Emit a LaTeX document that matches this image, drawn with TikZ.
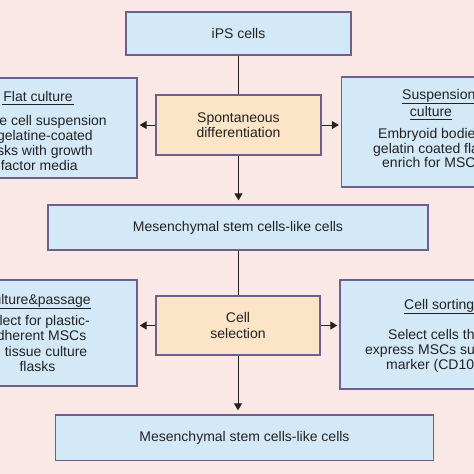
\documentclass[tikz,border=0pt]{standalone}
\usepackage{fontspec}
\setmainfont{Liberation Sans}
\usetikzlibrary{arrows.meta,positioning,calc}
\definecolor{bgpink}{HTML}{FAE8E6}
\definecolor{boxblue}{HTML}{D4E9F8}
\definecolor{boxorange}{HTML}{FCE4C6}
\definecolor{boxedge}{HTML}{6E5F8E}
\definecolor{inkgray}{HTML}{222222}

\begin{document}
\begin{tikzpicture}[x=1pt,y=-1pt,
  every node/.style={font=\fontsize{14}{15.2}\selectfont,text=inkgray},
  bluebox/.style={draw=boxedge,line width=1.3pt,fill=boxblue,align=center,inner sep=0pt},
  stagebox/.style={draw=boxedge,line width=1.3pt,fill=boxorange,align=center,inner sep=0pt},
  txt/.style={inner sep=0pt},
  link/.style={draw=inkgray,line width=1pt},
  uline/.style={draw=inkgray,line width=0.8pt},
  arr/.style={link,-{Triangle[length=7pt,width=8pt]}}]
\useasboundingbox (0,0) rectangle (474,474);
\clip (0,0) rectangle (474,474);
\fill[bgpink] (0,0) rectangle (474,474);

% main column
\node[bluebox,minimum width=225pt,minimum height=43pt] (ips) at (238.5,33.5) {iPS cells};
\node[stagebox,minimum width=165pt,minimum height=60pt] (spont) at (238.5,125) {Spontaneous\\differentiation};
\node[bluebox,minimum width=380pt,minimum height=45pt] (msc1) at (238,227.5) {Mesenchymal stem cells-like cells};
\node[stagebox,minimum width=164pt,minimum height=59pt] (sel) at (238,325.5) {Cell\\selection};
\node[bluebox,minimum width=377.6pt,minimum height=45.7pt] (msc2) at (244.5,437.8) {Mesenchymal stem cells-like cells};

% side boxes (run past the edges)
\node[bluebox,minimum width=177pt,minimum height=100pt] (flat) at (48.5,128) {};
\node[bluebox,minimum width=178.5pt,minimum height=110pt] (susp) at (430.75,132) {};
\node[bluebox,minimum width=177pt,minimum height=106pt] (passage) at (48.5,333) {};
\node[bluebox,minimum width=180pt,minimum height=109pt] (sort) at (430,334.5) {};

% flat culture
\node[txt,anchor=base] (flathead) at (38,101.5) {Flat culture};
\draw[uline] ([shift={(-1.5pt,-3pt)}]flathead.base west) -- ([shift={(1.5pt,-3pt)}]flathead.base east);
\node[txt,anchor=base east] (flat1) at (107,125) {e cell suspension};
\node[txt,anchor=base east] (flat2) at (93,140) {gelatine-coated};
\node[txt,anchor=base east] (flat3) at (93,155) {sks with growth};
\node[txt,anchor=base east] (flat4) at (78,170) {factor media};

% suspension culture
\node[txt,anchor=base west] (susphead) at (402,99.5) {Suspension};
\draw[uline] ([yshift=-3.5pt]susphead.base west) -- ([yshift=-3.5pt]susphead.base east);
\node[txt,anchor=base] (susphead2) at (431,116) {culture};
\draw[uline] ([yshift=-3.5pt]susphead2.base west) -- ([yshift=-3.5pt]susphead2.base east);
\node[txt,anchor=base west] (susp1) at (378,138.3) {Embryoid bodie};
\node[txt,anchor=base west] (susp2) at (373,153.3) {gelatin coated fla};
\node[txt,anchor=base west] (susp3) at (382,167.7) {enrich for MSCs};

% culture and passage
\node[txt,anchor=base east] (passhead) at (91,304.5) {ulture\&passage};
\draw[uline] ([yshift=-3.5pt]passhead.base west) -- ([yshift=-3.5pt]passhead.base east);
\node[txt,anchor=base east] (pass1) at (90,325) {lect for plastic-};
\node[txt,anchor=base east] (pass2) at (86.5,340.5) {dherent MSCs};
\node[txt,anchor=base east] (pass3) at (87.5,356) {in tissue culture};
\node[txt,anchor=base] (pass4) at (37.5,371.5) {flasks};

% cell sorting
\node[txt,anchor=base west] (sorthead) at (404,309.5) {Cell sorting};
\draw[uline] ([yshift=-4pt]sorthead.base west) -- ([yshift=-4pt]sorthead.base east);
\node[txt,anchor=base west] (sort1) at (388,339) {Select cells th};
\node[txt,anchor=base west] (sort2) at (365,354) {express MSCs su};
\node[txt,anchor=base west] (sort3) at (386,369.3) {marker (CD10};

% connectors
\draw[link] (ips.south) -- (spont.north);
\draw[arr,shorten >=2pt] (spont.west) -- (spont.west -| flat.east);
\draw[arr,shorten >=2pt] (spont.east) -- (spont.east -| susp.west);
\draw[arr,shorten >=4pt] (spont.south) -- (spont.south |- msc1.north);
\draw[link] (msc1.south -| sel.north) -- (sel.north);
\draw[arr,shorten >=2pt] (sel.west) -- (sel.west -| passage.east);
\draw[arr,shorten >=2pt] (sel.east) -- (sel.east -| sort.west);
\draw[arr,shorten >=4pt] (sel.south) -- (sel.south |- msc2.north);
\end{tikzpicture}
\end{document}
